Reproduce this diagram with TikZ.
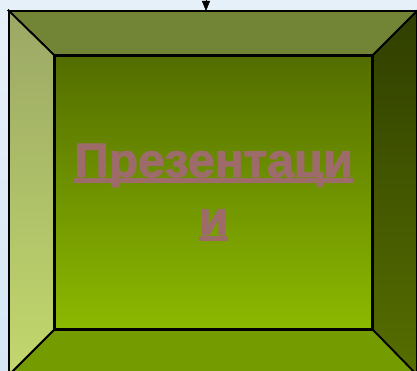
\documentclass[tikz,border=0pt]{standalone}
\usepackage{fontspec}
\setmainfont{Liberation Sans}
\newfontfamily\titlefont{Liberation Sans}[BoldFeatures={FakeBold=2}]
\usetikzlibrary{arrows.meta,positioning,calc}
\definecolor{skyback}{HTML}{D6E6F5}
\definecolor{rimtop}{HTML}{728536}
\definecolor{rimbottom}{HTML}{749B00}
\definecolor{facetop}{HTML}{536D00}
\definecolor{facebottom}{HTML}{8CB900}
\definecolor{titlerose}{HTML}{9E6B6B}
\newcommand{\rimline}[1]{\setbox0=\hbox{#1}\rlap{\rule[-6pt]{\wd0}{5pt}}\box0}

\begin{document}
\begin{tikzpicture}[
    x=1pt, y=1pt,
    bevel/.style={draw=black, line width=1.8pt, line join=miter},
    face/.style={draw=black, line width=1.8pt, inner sep=0pt,
                 minimum width=317pt, minimum height=273pt,
                 top color=facetop, bottom color=facebottom,
                 text=titlerose, align=center,
                 font=\titlefont\bfseries\fontsize{48}{58}\selectfont},
    feed/.style={-{Triangle[width=8pt,length=10pt]}, thin}
]
    \useasboundingbox (0,0) rectangle (417,371);
    \shade[top color=skyback!60!white, bottom color=skyback] (0,0) rectangle (417,371);

    % outer corners of the frame
    \coordinate (otl) at (9,360);
    \coordinate (otr) at (417,360);
    \coordinate (obl) at (9,-4);
    \coordinate (obr) at (417,-4);

    \node[face] (face) at (213.5,178.5) {\rimline{Презентаци}\\\rimline{и}};

    % bevels
    \draw[bevel, fill=rimtop] (otl) -- (otr) -- (face.north east) -- (face.north west) -- cycle;
    \shade[top color={rgb,255:red,155;green,168;blue,102}, bottom color={rgb,255:red,194;green,216;blue,108}]
        (otl) -- (face.north west) -- (face.south west) -- (obl) -- cycle;
    \draw[bevel] (otl) -- (face.north west) -- (face.south west) -- (obl) -- cycle;
    \shade[top color={rgb,255:red,48;green,63;blue,0}, bottom color={rgb,255:red,86;green,110;blue,0}]
        (otr) -- (face.north east) -- (face.south east) -- (obr) -- cycle;
    \draw[bevel] (otr) -- (face.north east) -- (face.south east) -- (obr) -- cycle;
    \draw[bevel, fill=rimbottom] (obl) -- (face.south west) -- (face.south east) -- (obr) -- cycle;

    % incoming connector
    \coordinate (feedin) at (206,395);
    \coordinate (entry) at (206,360);
    \draw[feed] (feedin) -- (entry);
\end{tikzpicture}
\end{document}
